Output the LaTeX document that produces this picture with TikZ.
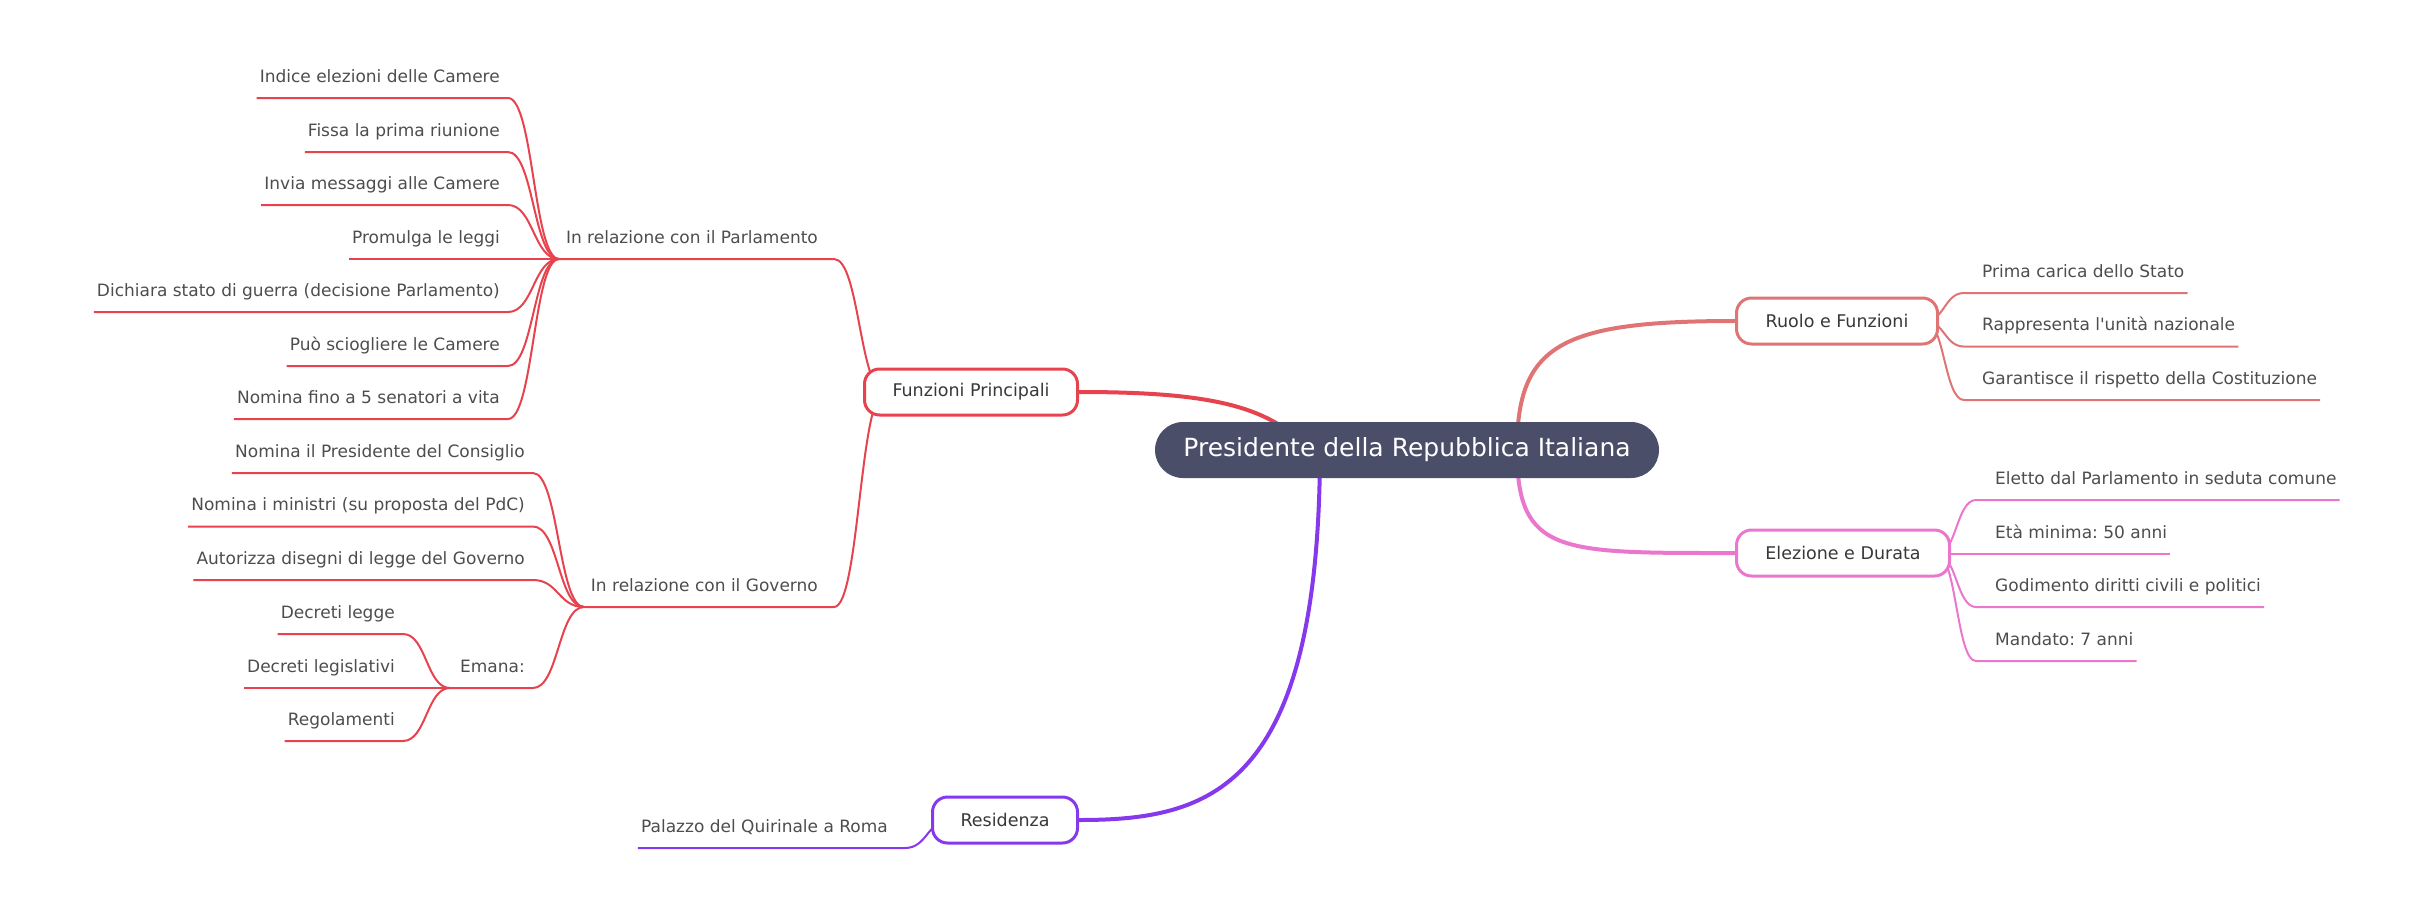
\documentclass[tikz,border=0pt]{standalone}
\usepackage{fontspec}
\setmainfont{DejaVu Sans}[Ligatures=TeXOff]
\usetikzlibrary{calc,backgrounds}
\definecolor{cfun}{HTML}{E7434F}
\definecolor{cruo}{HTML}{E07474}
\definecolor{cele}{HTML}{EA76CE}
\definecolor{cres}{HTML}{8639EC}
\definecolor{croot}{HTML}{4A4E69}
\definecolor{tleaf}{HTML}{4D4D4D}
\definecolor{tbranch}{HTML}{383838}
\frenchspacing
\begin{document}
\begin{tikzpicture}[x=1pt,y=-1pt,
  root/.style={fill=croot, rounded corners=28pt, minimum width=504pt, minimum height=56pt, text=white, font=\fontsize{25}{30}\selectfont\frenchspacing, inner sep=0pt},
  branch/.style={draw, fill=white, line width=3pt, rounded corners=15pt, minimum height=46pt, inner sep=0pt, text=tbranch, font=\fontsize{17.5}{21}\selectfont\frenchspacing},
  leafL/.style={inner sep=0pt, text=tleaf, font=\fontsize{17}{20}\selectfont\frenchspacing, anchor=base east},
  leafR/.style={inner sep=0pt, text=tleaf, font=\fontsize{17}{20}\selectfont\frenchspacing, anchor=base west},
  mainlink/.style={line width=4pt},
  sublink/.style={line width=2pt},
]
\useasboundingbox (0,0) rectangle (2434,900);
% ---- main nodes
\node[root] (root) at (1407,450) {Presidente della Repubblica Italiana};
\node[branch, draw=cfun, minimum width=213pt] (fun) at (971,392) {Funzioni Principali};
\node[branch, draw=cruo, minimum width=201pt] (ruo) at (1837,321) {Ruolo e Funzioni};
\node[branch, draw=cele, minimum width=213pt] (ele) at (1843,553) {Elezione e Durata};
\node[branch, draw=cres, minimum width=145pt] (res) at (1005,820) {Residenza};
% ---- link coordinates
\coordinate (rootFun) at (1318,462);
\coordinate (rootRuo) at (1517,450);
\coordinate (rootEle) at (1517,450);
\coordinate (rootRes) at (1320,455);
% ---- Funzioni children
\node[leafL] (par) at (818,243) {In relazione con il Parlamento};
\node[leafL] (gov) at (818,591) {In relazione con il Governo};
\coordinate (funS) at (885,392);
\coordinate (parC) at (834,259); \coordinate (parH) at (559,259);
\coordinate (govC) at (834,607); \coordinate (govH) at (584,607);
% Parlamento leaves
\node[leafL] (p1) at (500,82) {Indice elezioni delle Camere};
\node[leafL] (p2) at (500,136) {Fissa la prima riunione};
\node[leafL] (p3) at (500,189) {Invia messaggi alle Camere};
\node[leafL] (p4) at (500,243) {Promulga le leggi};
\node[leafL] (p5) at (500,296) {Dichiara stato di guerra (decisione Parlamento)};
\node[leafL] (p6) at (500,350) {Può sciogliere le Camere};
\node[leafL] (p7) at (500,403) {Nomina fino a 5 senatori a vita};
\coordinate (p1c) at (508,98);
\coordinate (p2c) at (508,152);
\coordinate (p3c) at (508,205);
\coordinate (p4c) at (508,259);
\coordinate (p5c) at (508,312);
\coordinate (p6c) at (508,366);
\coordinate (p7c) at (508,419);
% Governo leaves
\node[leafL] (g1) at (525,457) {Nomina il Presidente del Consiglio};
\node[leafL] (g2) at (525,510.5) {Nomina i ministri (su proposta del PdC)};
\node[leafL] (g3) at (525,564) {Autorizza disegni di legge del Governo};
\node[leafL] (ema) at (525,672) {Emana:};
\coordinate (g1c) at (533,473);
\coordinate (g2c) at (533,526.5);
\coordinate (g3c) at (533,580);
\coordinate (emaC) at (533,688); \coordinate (emaH) at (450,688);
% Emana leaves
\node[leafL] (d1) at (395,618) {Decreti legge};
\node[leafL] (d2) at (395,672) {Decreti legislativi};
\node[leafL] (d3) at (395,725) {Regolamenti};
\coordinate (d1c) at (403,634);
\coordinate (d3c) at (403,741);
% ---- Ruolo leaves
\coordinate (ruoS) at (1925,321);
\node[leafR] (r1) at (1982,277) {Prima carica dello Stato};
\node[leafR] (r2) at (1982,330.5) {Rappresenta l'unità nazionale};
\node[leafR] (r3) at (1982,384) {Garantisce il rispetto della Costituzione};
\coordinate (r1c) at (1964,293);
\coordinate (r2c) at (1964,346.5);
\coordinate (r3c) at (1964,400);
% ---- Elezione leaves
\coordinate (eleS) at (1937,554);
\node[leafR] (e1) at (1995,484) {Eletto dal Parlamento in seduta comune};
\node[leafR] (e2) at (1995,538) {Età minima: 50 anni};
\node[leafR] (e3) at (1995,591) {Godimento diritti civili e politici};
\node[leafR] (e4) at (1995,645) {Mandato: 7 anni};
\coordinate (e1c) at (1976,500);
\coordinate (e2c) at (1976,554);
\coordinate (e3c) at (1976,607);
\coordinate (e4c) at (1976,661);
% ---- Residenza leaf
\coordinate (resS) at (950,820);
\node[leafL] (q1) at (888,832) {Palazzo del Quirinale a Roma};
\coordinate (q1c) at (905,848);

\begin{pgfonlayer}{background}
% main links
\draw[mainlink, cfun] (fun.east) .. controls (1220,392) and (1280,408) .. (rootFun);
\draw[mainlink, cruo] (rootRuo) .. controls (1517,345) and (1560,321) .. (ruo.west);
\draw[mainlink, cele] (rootEle) .. controls (1517,555) and (1560,553) .. (ele.west);
\draw[mainlink, cres] (rootRes) .. controls (1318,790) and (1210,820) .. (res.east);
% Funzioni subtree
\begin{scope}[sublink, cfun]
\draw (funS) .. controls +(-25.5,0) and +(25.5,0) .. (parC) -- (parH);
\draw (funS) .. controls +(-25.5,0) and +(25.5,0) .. (govC) -- (govH);
\foreach \p in {p1,p2,p3,p5,p6,p7}
  \draw (parH) .. controls +(-25.5,0) and +(25.5,0) .. (\p c) -- ($(\p.base west)+(-3,16)$);
\draw (parH) -- ($(p4.base west)+(-3,16)$);
\foreach \p in {g1,g2,g3}
  \draw (govH) .. controls +(-25.5,0) and +(25.5,0) .. (\p c) -- ($(\p.base west)+(-3,16)$);
\draw (govH) .. controls +(-25.5,0) and +(25.5,0) .. (emaC) -- (emaH);
\foreach \p in {d1,d3}
  \draw (emaH) .. controls +(-23.5,0) and +(23.5,0) .. (\p c) -- ($(\p.base west)+(-3,16)$);
\draw (emaH) -- ($(d2.base west)+(-3,16)$);
\end{scope}
% Ruolo subtree
\begin{scope}[sublink, cruo]
\foreach \p in {r1,r2,r3}
  \draw (ruoS) .. controls +(19.5,0) and +(-19.5,0) .. (\p c) -- ($(\p.base east)+(3,16)$);
\end{scope}
% Elezione subtree
\begin{scope}[sublink, cele]
\foreach \p in {e1,e3,e4}
  \draw (eleS) .. controls +(19.5,0) and +(-19.5,0) .. (\p c) -- ($(\p.base east)+(3,16)$);
\draw (eleS) -- ($(e2.base east)+(3,16)$);
\end{scope}
% Residenza subtree
\begin{scope}[sublink, cres]
\draw (resS) .. controls +(-22.5,0) and +(22.5,0) .. (q1c) -- ($(q1.base west)+(-3,16)$);
\end{scope}
\end{pgfonlayer}
\end{tikzpicture}
\end{document}
